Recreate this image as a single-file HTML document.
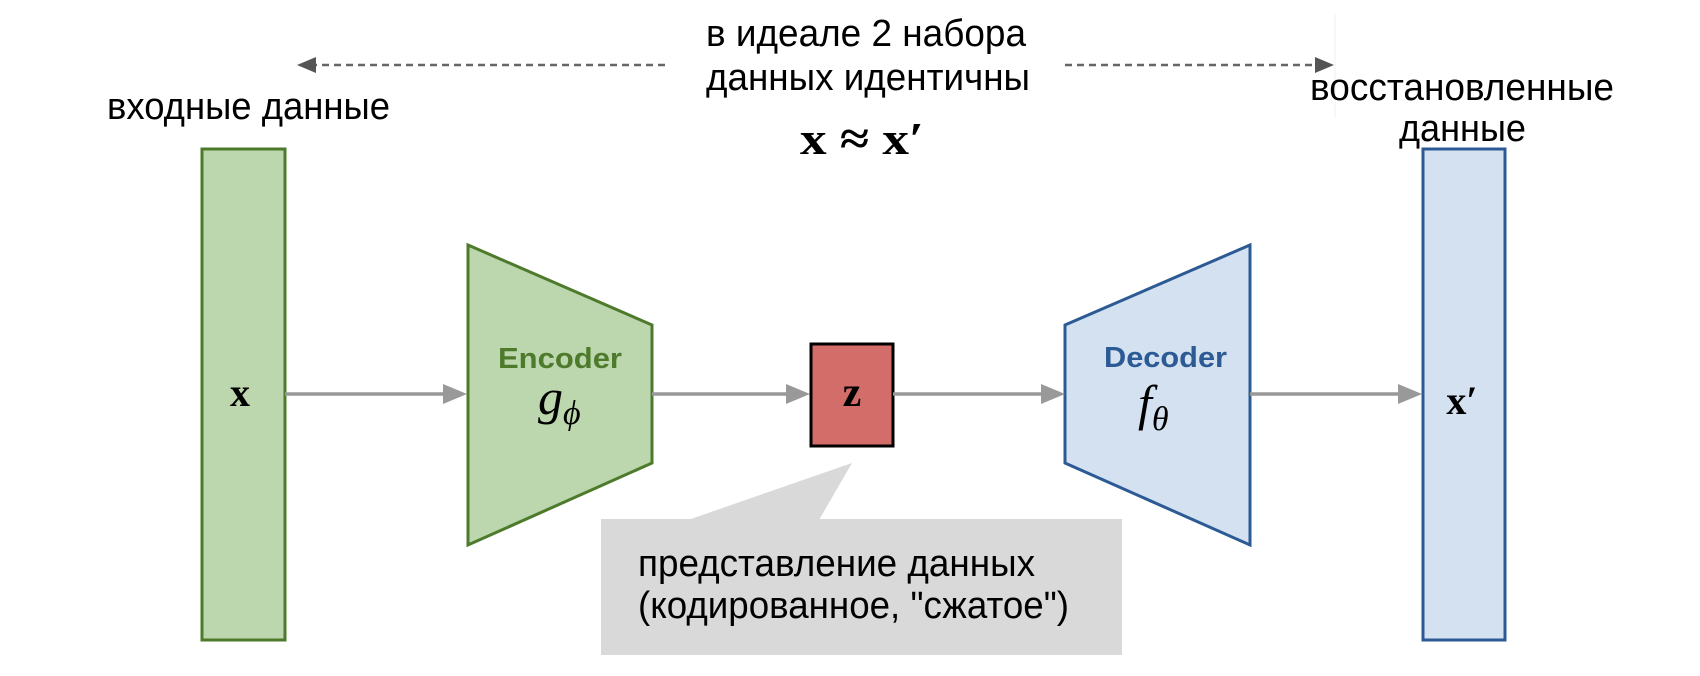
<!DOCTYPE html>
<html><head><meta charset="utf-8"><style>
html,body{margin:0;padding:0;background:#fff;}
svg{display:block;}
.t{font-family:"Liberation Sans",sans-serif;font-size:38px;fill:#000;}
.m{font-family:"Liberation Serif",serif;font-weight:bold;fill:#000;}
.i{font-family:"Liberation Serif",serif;font-style:italic;fill:#000;}
</style></head><body>
<svg width="1700" height="676" viewBox="0 0 1700 676" xmlns="http://www.w3.org/2000/svg">
<!-- dashed arrows -->
<line x1="665" y1="65" x2="312" y2="65" stroke="#666" stroke-width="2.5" stroke-dasharray="7,5"/>
<path d="M297,65 L316,57 L316,73 z" fill="#555"/>
<line x1="1065" y1="65" x2="1318" y2="65" stroke="#666" stroke-width="2.5" stroke-dasharray="7,5"/>
<path d="M1334,65 L1315,57 L1315,73 z" fill="#555"/>
<line x1="1335" y1="14" x2="1335" y2="118" stroke="#f2f2f2" stroke-width="1"/>
<!-- texts -->
<text class="t" x="107" y="119" textLength="283" lengthAdjust="spacingAndGlyphs">входные данные</text>
<text class="t" x="706" y="46" textLength="320" lengthAdjust="spacingAndGlyphs">в идеале 2 набора</text>
<text class="t" x="706" y="90" textLength="324" lengthAdjust="spacingAndGlyphs">данных идентичны</text>
<text class="t" x="1310" y="100" textLength="304" lengthAdjust="spacingAndGlyphs">восстановленные</text>
<text class="t" x="1399" y="141" textLength="127" lengthAdjust="spacingAndGlyphs">данные</text>
<text class="m" x="800" y="154" font-size="46" textLength="124" lengthAdjust="spacingAndGlyphs">x ≈ x′</text>
<!-- bars -->
<rect x="202" y="149" width="83" height="491" fill="#bcd6ad" stroke="#4e7a2c" stroke-width="3"/>
<rect x="1423" y="149" width="82" height="491" fill="#d3e1f0" stroke="#2c5a94" stroke-width="3"/>
<text class="m" x="240" y="406" font-size="40" text-anchor="middle">x</text>
<text class="m" x="1462" y="414" font-size="40" text-anchor="middle">x′</text>
<!-- encoder / decoder -->
<polygon points="468,245 652,325 652,463 468,545" fill="#bcd6ad" stroke="#4e7a2c" stroke-width="3"/>
<polygon points="1250,245 1065,325 1065,463 1250,545" fill="#d3e1f0" stroke="#2c5a94" stroke-width="3"/>
<text x="498" y="368" font-family="Liberation Sans,sans-serif" font-weight="bold" font-size="29" fill="#4e7a2c" textLength="124" lengthAdjust="spacingAndGlyphs">Encoder</text>
<text x="1104" y="367" font-family="Liberation Sans,sans-serif" font-weight="bold" font-size="29" fill="#2c5a94" textLength="123" lengthAdjust="spacingAndGlyphs">Decoder</text>
<text class="i" x="538" y="414" font-size="50">g<tspan font-size="34" dy="10">ϕ</tspan></text>
<text class="i" x="1138" y="420" font-size="50">f<tspan font-size="34" dy="10">θ</tspan></text>
<!-- z -->
<rect x="811" y="344" width="82" height="102" fill="#d36d6a" stroke="#000" stroke-width="3"/>
<text class="m" x="852" y="406" font-size="42" text-anchor="middle">z</text>
<!-- arrows -->
<g stroke="#999" stroke-width="3.5" fill="none">
<line x1="285" y1="394" x2="445" y2="394"/>
<line x1="652" y1="394" x2="788" y2="394"/>
<line x1="893" y1="394" x2="1043" y2="394"/>
<line x1="1250" y1="394" x2="1400" y2="394"/>
</g>
<g fill="#999">
<path d="M467,394 L443,384 L443,404 z"/>
<path d="M810,394 L786,384 L786,404 z"/>
<path d="M1065,394 L1041,384 L1041,404 z"/>
<path d="M1422,394 L1398,384 L1398,404 z"/>
</g>
<!-- callout -->
<polygon points="852,463 688,520 819,520" fill="#d9d9d9"/>
<rect x="601" y="519" width="521" height="136" fill="#d9d9d9"/>
<text class="t" x="638" y="576" textLength="397" lengthAdjust="spacingAndGlyphs">представление данных</text>
<text class="t" x="638" y="618" textLength="431" lengthAdjust="spacingAndGlyphs">(кодированное, "сжатое")</text>
</svg>
</body></html>
